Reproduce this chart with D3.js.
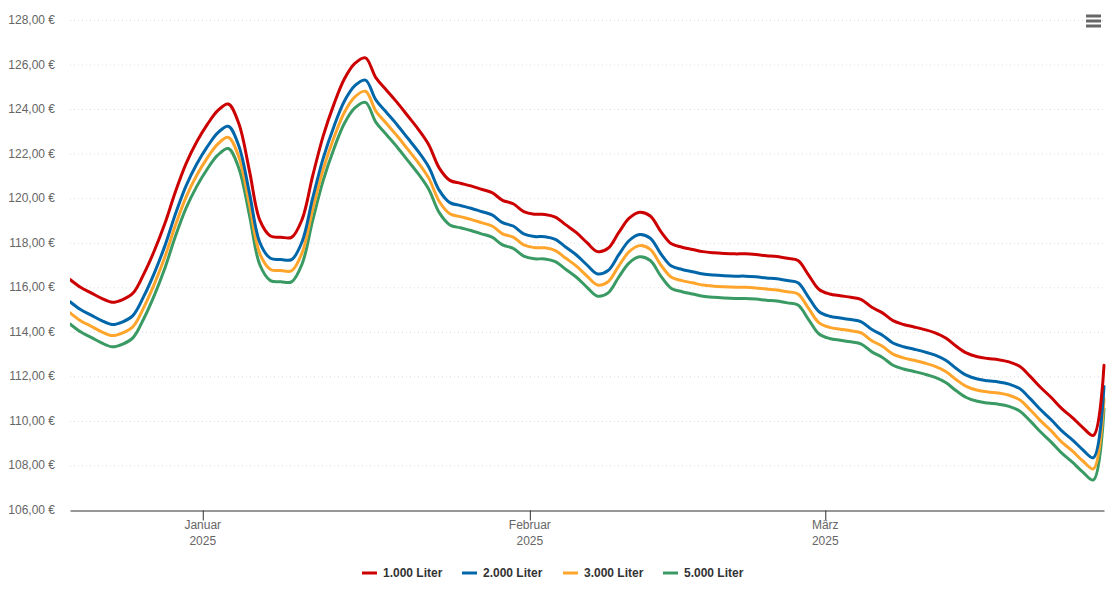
<!DOCTYPE html>
<html>
<head>
<meta charset="utf-8">
<script src="https://cdn.jsdelivr.net/npm/d3@7/dist/d3.min.js"></script>
<style>
  html, body { margin: 0; padding: 0; background: #fff; }
  svg { display: block; font-family: "Liberation Sans", Arial, sans-serif; }
</style>
</head>
<body>
<div id="chart"></div>
<script>
// ---- Data ----
const startDate = "2024-12-19T10:00:00";
const dayCount = 99;

const seriesNames = ["1.000 Liter", "2.000 Liter", "3.000 Liter", "5.000 Liter"];
const seriesColors = ["#cc0000", "#0066aa", "#ffa52b", "#3a9a64"];

const liter1000 = [116.35,116.00,115.75,115.50,115.33,115.45,115.75,116.60,117.65,118.87,
  120.30,121.55,122.52,123.30,123.93,124.23,123.35,121.25,119.00,118.30,
  118.25,118.24,119.05,121.00,122.80,124.20,125.35,126.05,126.30,125.40,
  124.85,124.30,123.70,123.10,122.40,121.35,120.80,120.67,120.55,120.40,
  120.25,119.90,119.75,119.40,119.28,119.27,119.15,118.80,118.45,118.00,
  117.60,117.75,118.45,119.10,119.37,119.20,118.50,117.95,117.80,117.70,
  117.60,117.55,117.52,117.50,117.50,117.47,117.42,117.38,117.30,117.20,
  116.55,115.90,115.70,115.62,115.55,115.45,115.10,114.85,114.50,114.33,
  114.22,114.10,113.95,113.72,113.35,113.04,112.88,112.80,112.75,112.65,
  112.45,112.00,111.50,111.05,110.55,110.15,109.70,109.35,112.50];

const liter2000 = [115.35,115.00,114.75,114.50,114.33,114.45,114.75,115.60,116.65,117.87,
  119.30,120.55,121.52,122.30,122.93,123.23,122.35,120.25,118.00,117.30,
  117.25,117.24,118.05,120.00,121.80,123.20,124.35,125.05,125.30,124.40,
  123.85,123.30,122.70,122.10,121.40,120.35,119.80,119.67,119.55,119.40,
  119.25,118.90,118.75,118.40,118.28,118.27,118.15,117.80,117.45,117.00,
  116.60,116.75,117.45,118.10,118.37,118.20,117.50,116.95,116.80,116.70,
  116.60,116.55,116.52,116.50,116.50,116.47,116.42,116.38,116.30,116.20,
  115.55,114.90,114.70,114.62,114.55,114.45,114.10,113.85,113.50,113.33,
  113.22,113.10,112.95,112.72,112.35,112.04,111.88,111.80,111.75,111.65,
  111.45,111.00,110.50,110.05,109.55,109.15,108.70,108.35,111.55];

const liter3000 = [114.85,114.50,114.25,114.00,113.83,113.95,114.25,115.10,116.15,117.37,
  118.80,120.05,121.02,121.80,122.43,122.73,121.85,119.75,117.50,116.80,
  116.75,116.74,117.55,119.50,121.30,122.70,123.85,124.55,124.80,123.90,
  123.35,122.80,122.20,121.60,120.90,119.85,119.30,119.17,119.05,118.90,
  118.75,118.40,118.25,117.90,117.78,117.77,117.65,117.30,116.95,116.50,
  116.10,116.25,116.95,117.60,117.87,117.70,117.00,116.45,116.30,116.20,
  116.10,116.05,116.02,116.00,116.00,115.97,115.92,115.88,115.80,115.70,
  115.05,114.40,114.20,114.12,114.05,113.95,113.60,113.35,113.00,112.83,
  112.72,112.60,112.45,112.22,111.85,111.54,111.38,111.30,111.25,111.15,
  110.95,110.50,110.00,109.55,109.05,108.65,108.20,107.85,111.00];

const liter5000 = [114.35,114.00,113.75,113.50,113.33,113.45,113.75,114.60,115.65,116.87,
  118.30,119.55,120.52,121.30,121.93,122.23,121.35,119.25,117.00,116.30,
  116.25,116.24,117.05,119.00,120.80,122.20,123.35,124.05,124.30,123.40,
  122.85,122.30,121.70,121.10,120.40,119.35,118.80,118.67,118.55,118.40,
  118.25,117.90,117.75,117.40,117.28,117.27,117.15,116.80,116.45,116.00,
  115.60,115.75,116.45,117.10,117.37,117.20,116.50,115.95,115.80,115.70,
  115.60,115.55,115.52,115.50,115.50,115.47,115.42,115.38,115.30,115.20,
  114.55,113.90,113.70,113.62,113.55,113.45,113.10,112.85,112.50,112.33,
  112.22,112.10,111.95,111.72,111.35,111.04,110.88,110.80,110.75,110.65,
  110.45,110.00,109.50,109.05,108.55,108.15,107.70,107.35,110.55];

const yTicks = [106,108,110,112,114,116,118,120,122,124,126,128];
const monthTicks = ["2025-01-01","2025-02-01","2025-03-01"];
const monthLabels = ["Januar","Februar","März"];
const yearLabel = "2025";

// ---- Build ----
const W = 1115, H = 608;
const margin = {left: 70, right: 11, top: 20, bottom: 98};
const svg = d3.select("#chart").append("svg").attr("width", W).attr("height", H);

const t0 = new Date(startDate);
const dates = d3.range(dayCount).map(i => d3.timeDay.offset(t0, i));
const allSeries = [liter1000, liter2000, liter3000, liter5000];

const x = d3.scaleTime().domain(d3.extent(dates)).range([margin.left, W - margin.right]);
const y = d3.scaleLinear().domain([106, 128]).range([H - margin.bottom, margin.top]);

// grid
svg.append("g").selectAll("line").data(yTicks.filter(v => v !== 106)).join("line")
  .attr("x1", margin.left).attr("x2", W - margin.right)
  .attr("y1", d => y(d) + 0.5).attr("y2", d => y(d) + 0.5)
  .attr("stroke", "#dcdcdc").attr("stroke-width", 1).attr("stroke-dasharray", "1,3");

// y labels
const fmt = v => d3.format(".2f")(v).replace(".", ",") + " €";
svg.append("g").selectAll("text").data(yTicks).join("text")
  .attr("x", 55).attr("y", d => y(d) + 4)
  .attr("text-anchor", "end").attr("fill", "#666").attr("font-size", 12)
  .text(fmt);

// x axis
const xAxis = d3.axisBottom(x)
  .tickValues(monthTicks.map(s => new Date(s + "T00:00:00")))
  .tickSize(10).tickSizeOuter(0).tickFormat("");
const gx = svg.append("g").attr("transform", `translate(0,${y(106) + 0.5})`).call(xAxis);
gx.select(".domain").attr("stroke", "#333").attr("stroke-width", 1);
gx.selectAll(".tick line").attr("stroke", "#333");
const xl = svg.append("g");
monthTicks.forEach((s, i) => {
  const px = x(new Date(s + "T00:00:00"));
  xl.append("text").attr("x", px).attr("y", 529).attr("text-anchor", "middle")
    .attr("fill", "#666").attr("font-size", 12).text(monthLabels[i]);
  xl.append("text").attr("x", px).attr("y", 545).attr("text-anchor", "middle")
    .attr("fill", "#666").attr("font-size", 12).text(yearLabel);
});

// lines
const line = d3.line().x((d, i) => x(dates[i])).y(d => y(d)).curve(d3.curveCatmullRom.alpha(0.5));
svg.append("defs").append("clipPath").attr("id", "clip").append("rect")
  .attr("x", margin.left).attr("y", 0).attr("width", W - margin.right - margin.left + 2).attr("height", H - margin.bottom);
const lg = svg.append("g").attr("clip-path", "url(#clip)");
[3, 2, 1, 0].forEach(k => {
  lg.append("path").datum(allSeries[k]).attr("d", line)
    .attr("fill", "none").attr("stroke", seriesColors[k]).attr("stroke-width", 3)
    .attr("stroke-linejoin", "round").attr("stroke-linecap", "round");
});

// legend
const legendX = [362, 462, 563, 663];
const leg = svg.append("g");
seriesNames.forEach((n, i) => {
  leg.append("line").attr("x1", legendX[i]).attr("x2", legendX[i] + 15)
    .attr("y1", 573).attr("y2", 573).attr("stroke", seriesColors[i]).attr("stroke-width", 3);
  leg.append("text").attr("x", legendX[i] + 21).attr("y", 577)
    .attr("fill", "#333").attr("font-size", 12).attr("font-weight", "bold").text(n);
});

// menu icon
[16, 21, 26].forEach(yy => {
  svg.append("line").attr("x1", 1086).attr("x2", 1101).attr("y1", yy).attr("y2", yy)
    .attr("stroke", "#666").attr("stroke-width", 3);
});
</script>
</body>
</html>
